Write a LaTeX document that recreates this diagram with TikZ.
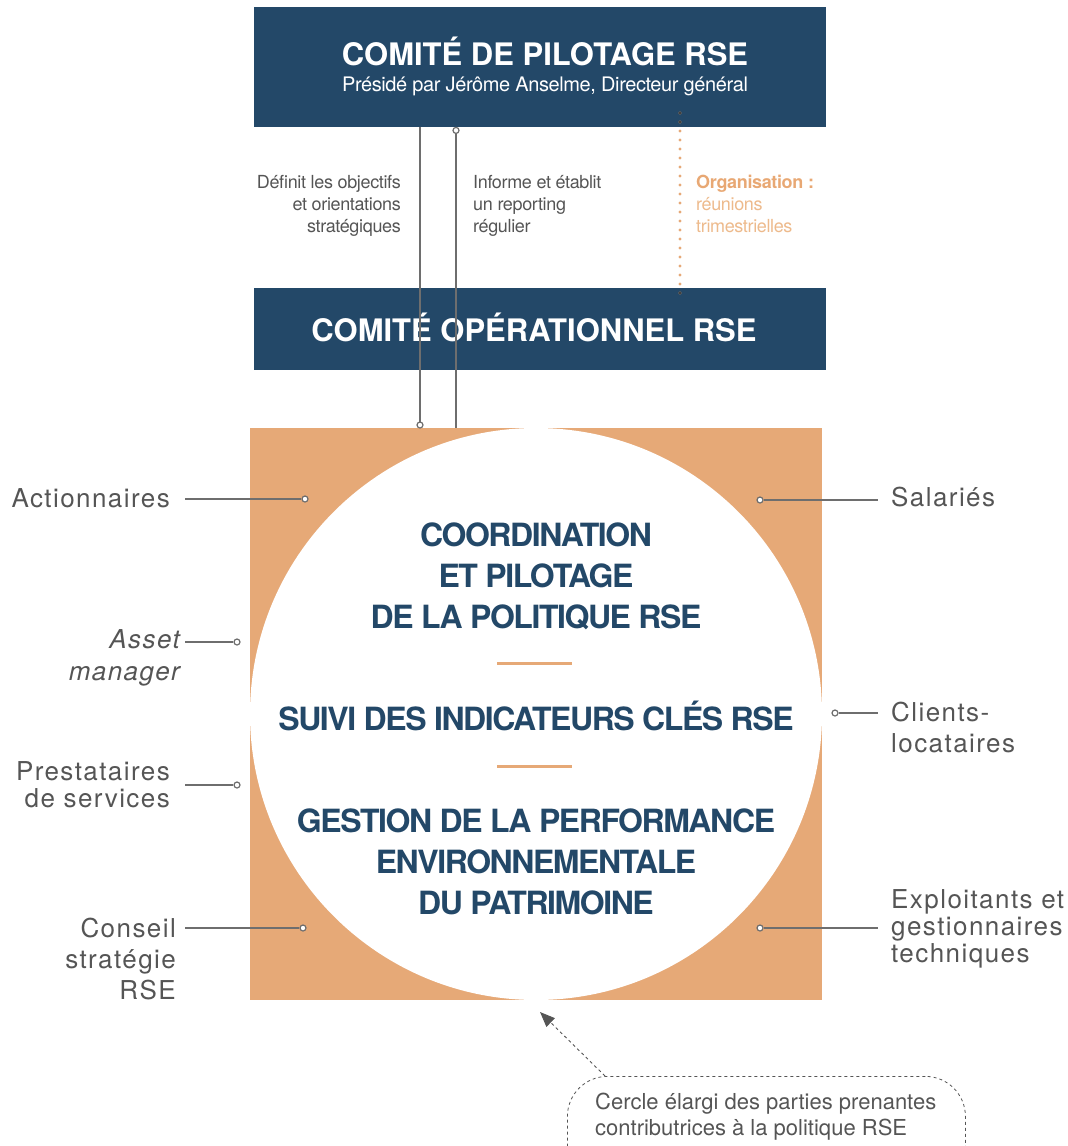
\documentclass[tikz,border=0pt]{standalone}
\usepackage{fontspec}
\setmainfont{TeX Gyre Heros}
\newfontfamily\headfont{TeX Gyre Heros}
\newfontfamily\circfont{TeX Gyre Heros}[LetterSpace=-4.5]
\newfontfamily\sidefont{TeX Gyre Heros}[LetterSpace=5.5]
\newfontfamily\smallfont{TeX Gyre Heros}[LetterSpace=-2]
\usetikzlibrary{arrows.meta,calc}

\definecolor{navy}{HTML}{234868}
\definecolor{sand}{HTML}{E6A977}
\definecolor{ink}{HTML}{555555}
\definecolor{wire}{HTML}{6E6E6E}
\definecolor{sandtxt}{HTML}{E8A874}
\definecolor{sandlight}{HTML}{EDBA8C}

\tikzset{
  bluebox/.style={fill=navy, inner sep=0, anchor=north west},
  boxtitle/.style={text=white, font=\headfont\bfseries\fontsize{31}{36}\selectfont, inner sep=0, anchor=base},
  boxsub/.style={text=white, font=\smallfont\fontsize{20}{24}\selectfont, inner sep=0, anchor=base},
  flowtxt/.style={text=ink, font=\smallfont\fontsize{18}{22}\selectfont, inner sep=0},
  orgtxt/.style={font=\smallfont\fontsize{18}{22}\selectfont, inner sep=0, anchor=base west, align=left},
  circtxt/.style={text=navy, font=\circfont\bfseries\fontsize{32}{41}\selectfont, inner sep=0, anchor=base, align=center},
  side/.style={text=ink, font=\sidefont\fontsize{26}{31}\selectfont, inner sep=0},
  wireline/.style={draw=wire, line width=1.4pt},
  pin/.style={circle, draw=wire, fill=white, line width=1.2pt, minimum size=6pt, inner sep=0},
  sep/.style={draw=sand, line width=3pt},
  dots/.style={line width=3.2pt, line cap=round, dash pattern=on 0pt off 9pt},
  notebox/.style={draw=ink, dash pattern=on 3pt off 3pt, line width=0.8pt, rounded corners=40pt, anchor=north west, inner sep=0},
}

\begin{document}
\begin{tikzpicture}[x=1pt, y=-1pt]
\useasboundingbox (0,0) rectangle (1068,1146);
\clip (0,0) rectangle (1068,1146);

% orange square with the white circle inscribed
\node[fill=sand, minimum size=572pt, inner sep=0, anchor=north west] (sq) at (250,428) {};
\node[circle, fill=white, minimum size=572pt, inner sep=0] (circ) at (536,714) {};

% committee boxes
\node[bluebox, minimum width=572pt, minimum height=120pt] (pil) at (254,7) {};
\node[bluebox, minimum width=572pt, minimum height=82pt] (ops) at (254,288) {};
\node[boxtitle] (pilT) at (545,65) {COMITÉ DE PILOTAGE RSE};
\node[boxsub] (pilS) at (545,91) {Présidé par Jérôme Anselme, Directeur général};
\node[boxtitle] (opsT) at (534,341) {COMITÉ OPÉRATIONNEL RSE};

% links between committees and the circle
\coordinate (xa) at (420,0);
\coordinate (xb) at (456,0);
\draw[wireline] (pil.south -| xa) -- ($(sq.north -| xa)+(0,-3)$);
\node[pin] (pa) at ($(sq.north -| xa)+(0,-3)$) {};
\draw[wireline] ($(pil.south -| xb)+(0,3)$) -- (sq.north -| xb);
\node[pin] (pb) at ($(pil.south -| xb)+(0,3)$) {};

% dotted link: orange in the open, dark over the boxes
\draw[dots, draw=sand] (680,113) -- (680,296);
\begin{scope}
  \clip (pil.north west) rectangle (pil.south east) (ops.north west) rectangle (ops.south east);
  \draw[dots, draw=black!75] (680,113) -- (680,296);
\end{scope}

% link texts (base anchor sits on the last line)
\node[flowtxt, anchor=base east, align=right] (def) at (401,232) {Définit les objectifs\\et orientations\\stratégiques};
\node[flowtxt, anchor=base west, align=left] (inf) at (473,232) {Informe et établit\\un reporting\\régulier};
\node[orgtxt] (org) at (696,232) {\textcolor{sandtxt}{\bfseries Organisation :}\\\textcolor{sandlight}{réunions}\\\textcolor{sandlight}{trimestrielles}};

% circle content
\node[circtxt] (c1) at (536,628) {COORDINATION\\ET PILOTAGE\\DE LA POLITIQUE RSE};
\draw[sep] (497,663) -- (572,663);
\node[circtxt] (c2) at (536,730) {SUIVI DES INDICATEURS CLÉS RSE};
\draw[sep] (497,766) -- (572,766);
\node[circtxt] (c3) at (536,914) {GESTION DE LA PERFORMANCE\\ENVIRONNEMENTALE\\DU PATRIMOINE};

% stakeholders, left
\node[side, anchor=base east] (act) at (170,507) {Actionnaires};
\node[pin] (pact) at (305,499) {};
\draw[wireline] (185,499) -- (pact);

\node[side, anchor=base east, align=right, font=\sidefont\fontsize{26}{32}\selectfont] (asm) at (180,680) {\itshape Asset\\\itshape manager};
\node[pin] (pasm) at (237,642) {};
\draw[wireline] (185,642) -- (pasm);

\node[side, anchor=base east, align=right, font=\sidefont\fontsize{26}{27}\selectfont] (pre) at (170,807) {Prestataires\\de services};
\node[pin] (ppre) at (237,785) {};
\draw[wireline] (185,785) -- (ppre);

\node[side, anchor=base east, align=right] (con) at (176,999) {Conseil\\stratégie\\RSE};
\node[pin] (pcon) at (303,928) {};
\draw[wireline] (185,928) -- (pcon);

% stakeholders, right
\node[side, anchor=base west] (sal) at (891,506) {Salariés};
\node[pin] (psal) at (760,500) {};
\draw[wireline] (psal) -- (878,500);

\node[side, anchor=base west, align=left] (cli) at (891,752) {Clients-\\locataires};
\node[pin] (pcli) at (835,713) {};
\draw[wireline] (pcli) -- (878,713);

\node[side, anchor=base west, align=left, font=\sidefont\fontsize{26}{27}\selectfont] (exp) at (891,962) {Exploitants et\\gestionnaires\\techniques};
\node[pin] (pexp) at (760,928) {};
\draw[wireline] (pexp) -- (878,928);

% note on the wider circle of stakeholders
\node[notebox, minimum width=398pt, minimum height=110pt] (note) at (567,1076) {};
\node[text=ink, font=\headfont\fontsize{22}{26}\selectfont, anchor=base west, align=left, inner sep=0] (noteT) at (595,1135) {Cercle élargi des parties prenantes\\contributrices à la politique RSE};
\coordinate (tgt) at (540,1012);
\draw[draw=ink, line width=0.9pt, dash pattern=on 3pt off 3pt, -{Triangle[length=15pt, width=12pt]}] ($(note.north west)+(38,0)$) -- (tgt);
\end{tikzpicture}
\end{document}
